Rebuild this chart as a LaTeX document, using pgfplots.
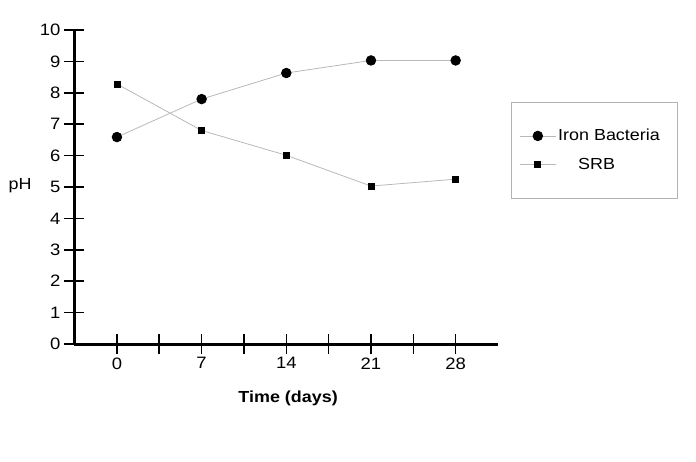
\documentclass[border=0pt]{standalone}
\usepackage{fontspec}
\setmainfont{Liberation Sans}[FakeStretch=1.12]
\usepackage{pgfplots}
\pgfplotsset{compat=1.18}
\begin{document}
\begin{tikzpicture}[x=1pt,y=1pt]
\path[use as bounding box] (0,0) rectangle (696,461);
\begin{axis}[
  at={(74pt,117pt)}, anchor=south west,
  scale only axis, width=424pt, height=314pt,
  xmin=-3.55, xmax=31.5, ymin=0, ymax=10,
  axis x line=bottom, axis y line=left,
  axis line style={line width=3pt, -, black},
  xtick={0,7,14,21,28}, minor xtick={3.5,10.5,17.5,24.5},
  ytick={0,1,...,10},
  tick align=center, major tick length=20pt, minor tick length=20pt,
  tick style={black, line width=1.6pt},
  /pgf/number format/assume math mode=true,
  tick label style={font=\fontsize{16.5}{19}\selectfont},
  xlabel={\textbf{Time (days)}},
  xlabel style={at={(axis description cs:0.505,-0.172)}, anchor=center, font=\fontsize{16}{19}\selectfont},
  ylabel={pH},
  ylabel style={at={(axis description cs:-0.127,0.503)}, anchor=center, rotate=-90, font=\fontsize{16}{19}\selectfont},
  legend style={at={(axis description cs:1.0307,0.7707)}, anchor=north west,
    draw=gray!60, line width=0.8pt, font=\fontsize{16}{19}\selectfont,
    inner xsep=8pt, inner ysep=25pt, row sep=12pt},
  legend cell align=left,
  legend image code/.code={\draw[mark repeat=2, mark phase=2] plot coordinates {(0pt,0pt) (18pt,0pt) (36pt,0pt)};},
]
\addplot[color=gray!55, line width=0.8pt, mark=*, mark size=4.8pt, mark options={fill=black, draw=black, solid}]
  coordinates {(0,6.59) (7,7.8) (14,8.63) (21,9.03) (28,9.03)};
\addlegendentry{Iron Bacteria\hspace*{8pt}}
\addplot[color=gray!55, line width=0.8pt, mark=square*, mark size=3pt, mark options={fill=black, draw=black, solid}]
  coordinates {(0,8.28) (7,6.8) (14,6.01) (21,5.03) (28,5.25)};
\addlegendentry{\hspace*{20pt}SRB}
\end{axis}
\end{tikzpicture}
\end{document}
